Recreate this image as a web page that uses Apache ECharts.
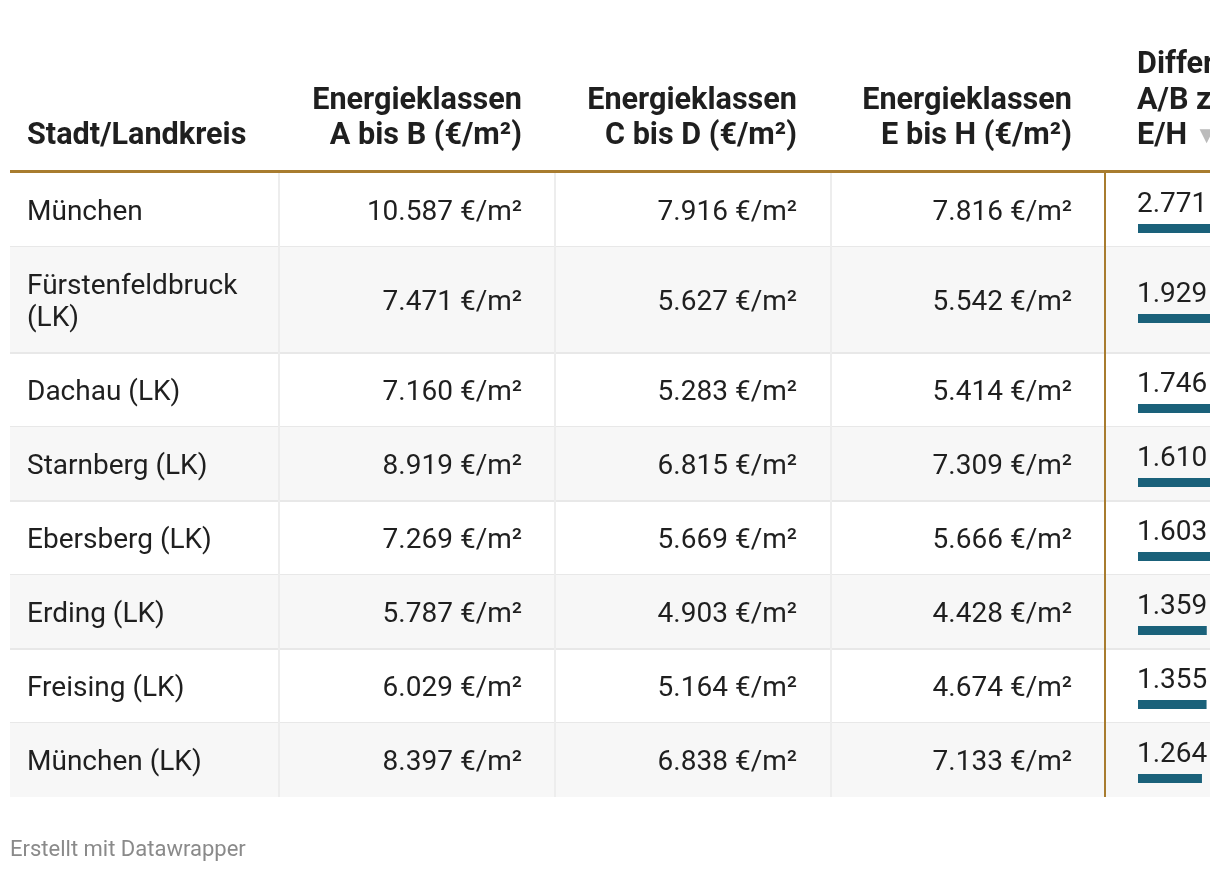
<!DOCTYPE html>
<html>
<head>
<meta charset="utf-8">
<title>Energieklassen</title>
<script src="https://cdn.jsdelivr.net/npm/echarts@6/dist/echarts.min.js"></script>
<style>body{margin:0;background:#fff;}</style>
</head>
<body>
<div id="main" style="width:1210px;height:872px;"></div>
<script type="text/javascript">
// Daten (€/m²)
var regionen = ['München', 'Fürstenfeldbruck (LK)', 'Dachau (LK)', 'Starnberg (LK)',
    'Ebersberg (LK)', 'Erding (LK)', 'Freising (LK)', 'München (LK)'];
var klasseAB = [10587, 7471, 7160, 8919, 7269, 5787, 6029, 8397];
var klasseCD = [7916, 5627, 5283, 6815, 5669, 4903, 5164, 6838];
var klasseEH = [7816, 5542, 5414, 7309, 5666, 4428, 4674, 7133];
var differenz = [2771, 1929, 1746, 1610, 1603, 1359, 1355, 1264];
var kopfzeilen = ['Stadt/Landkreis', 'Energieklassen\nA bis B (€/m²)', 'Energieklassen\nC bis D (€/m²)',
    'Energieklassen\nE bis H (€/m²)', 'Differenz\nA/B zu\nE/H'];
var quelle = 'Erstellt mit Datawrapper';

var FONT = 'Roboto, "Noto Sans", sans-serif';
var GOLD = '#a87c2f';
var LINE = '#e8e8e8';
var TEXT = '#1f1f1f';
var tableTop = 173, tableLeft = 10, tableRight = 1210;
var colEdges = [10, 279, 555, 831, 1105];

function fmt(v) {
    return String(v).replace(/\B(?=(\d{3})+(?!\d))/g, '.');
}

// einfacher Zeilenumbruch fuer die erste Spalte
var ctx = document.createElement('canvas').getContext('2d');
ctx.font = '28px ' + FONT;
function wrap(text, maxW) {
    var words = text.split(' '), lines = [], cur = '';
    words.forEach(function (w) {
        var t = cur ? cur + ' ' + w : w;
        if (cur && ctx.measureText(t).width > maxW) { lines.push(cur); cur = w; }
        else cur = t;
    });
    lines.push(cur);
    return lines;
}

var rows = [];
var acc = 0;
regionen.forEach(function (r, i) {
    var lines = wrap(r, 235);
    var h = 42 + 32 * lines.length;
    rows.push([i, acc, h, lines.join('\n')]);
    acc += h;
});
var tableHeight = acc;

var myChart = echarts.init(document.getElementById('main'));

function cellText(txt, x, y, align) {
    return {
        type: 'text',
        style: {
            text: txt, x: x, y: y, align: align, verticalAlign: 'middle',
            fill: TEXT, fontSize: 28, fontFamily: FONT, lineHeight: 32
        }
    };
}

function headText(txt, x, align) {
    return {
        type: 'text',
        style: {
            text: txt, x: x, y: 154.5, align: align, verticalAlign: 'bottom',
            fill: TEXT, fontSize: 30.6, fontWeight: 'bold', fontFamily: FONT, lineHeight: 35.5,
            rich: { t: { fill: '#bbbbbb', fontSize: 24, fontFamily: FONT, lineHeight: 35.5 } }
        }
    };
}

var option = {
    animation: false,
    grid: [{ left: 1138, top: tableTop, width: 72, height: tableHeight, show: false }],
    xAxis: [{ type: 'value', min: 0, max: 1423, show: false }],
    yAxis: [{ type: 'value', min: 0, max: tableHeight, inverse: true, show: false }],
    graphic: [
        headText(kopfzeilen[0], 27, 'left'),
        headText(kopfzeilen[1], 522, 'right'),
        headText(kopfzeilen[2], 797, 'right'),
        headText(kopfzeilen[3], 1072, 'right'),
        headText(kopfzeilen[4] + ' {t|▼}', 1137, 'left'),
        { type: 'rect', shape: { x: tableLeft, y: tableTop - 3, width: tableRight - tableLeft, height: 3 },
            style: { fill: GOLD }, z: 10 },
        { type: 'text', style: { text: quelle, x: 10, y: 850, align: 'left', verticalAlign: 'middle',
            fill: '#8a8a8a', fontSize: 22, fontFamily: FONT } }
    ],
    series: [{
        type: 'custom',
        name: 'zellen',
        silent: true,
        clip: false,
        z: 1,
        data: rows,
        renderItem: function (params, api) {
            var i = api.value(0);
            var top = api.coord([0, api.value(1)])[1];
            var bottom = api.coord([0, api.value(1) + api.value(2)])[1];
            var mid = (top + bottom) / 2;
            var children = [];
            if (i % 2 === 1) {
                children.push({ type: 'rect', shape: { x: tableLeft, y: top, width: tableRight - tableLeft, height: bottom - top },
                    style: { fill: '#f7f7f7' } });
            }
            if (i < regionen.length - 1) {
                children.push({ type: 'rect', shape: { x: tableLeft, y: bottom - 1, width: tableRight - tableLeft, height: 2 },
                    style: { fill: LINE } });
            }
            [1, 2, 3].forEach(function (c) {
                children.push({ type: 'rect', shape: { x: colEdges[c] - 1, y: top, width: 2, height: bottom - top },
                    style: { fill: '#ededed' } });
            });
            children.push({ type: 'rect', shape: { x: colEdges[4] - 1, y: top, width: 2, height: bottom - top },
                style: { fill: GOLD } });
            children.push(cellText(rows[i][3], 27, mid + 3, 'left'));
            children.push(cellText(fmt(klasseAB[i]) + ' €/m²', 522, mid + 3, 'right'));
            children.push(cellText(fmt(klasseCD[i]) + ' €/m²', 797, mid + 3, 'right'));
            children.push(cellText(fmt(klasseEH[i]) + ' €/m²', 1072, mid + 3, 'right'));
            children.push(cellText(fmt(differenz[i]), 1137, mid - 5, 'left'));
            return { type: 'group', children: children };
        }
    }, {
        type: 'custom',
        name: 'Differenz',
        silent: true,
        clip: true,
        z: 2,
        data: rows.map(function (r, i) { return [differenz[i], r[1] + r[2] / 2]; }),
        renderItem: function (params, api) {
            var p0 = api.coord([0, api.value(1)]);
            var p1 = api.coord([api.value(0), api.value(1)]);
            return {
                type: 'rect',
                shape: { x: p0[0], y: p0[1] + 14, width: p1[0] - p0[0], height: 9 },
                style: { fill: '#1a617a' }
            };
        }
    }]
};
myChart.setOption(option);
</script>
</body>
</html>
